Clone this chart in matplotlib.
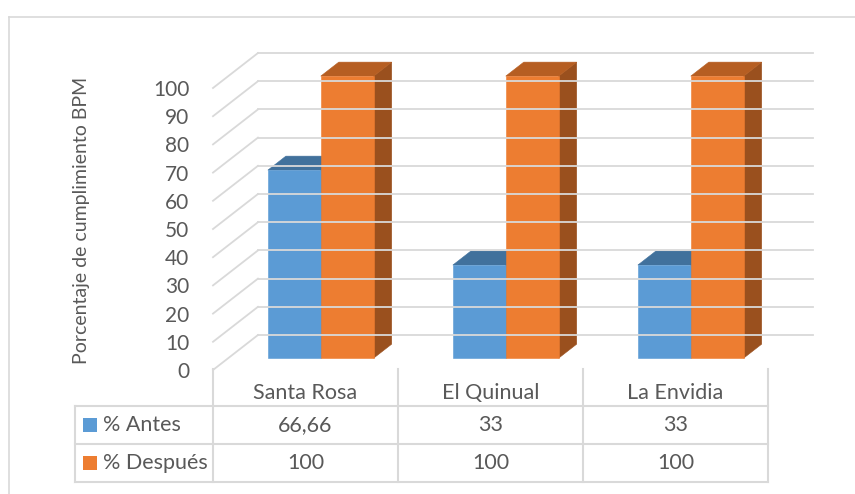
import matplotlib.pyplot as plt
from matplotlib.patches import Polygon, Rectangle
from matplotlib.lines import Line2D

# data
categories = ['Santa Rosa', 'El Quinual', 'La Envidia']
series_names = ['% Antes', '% Después']
antes = [66.66, 33, 33]
despues = [100, 100, 100]
antes_labels = ['66,66', '33', '33']
despues_labels = ['100', '100', '100']
yticks = list(range(0, 101, 10))

blue, blue_top, blue_side = '#5B9BD5', '#41719C', '#3E6C96'
orange, orange_top, orange_side = '#ED7D31', '#B65E22', '#9A501E'
grid_col = '#D9D9D9'
text_col = '#595959'

plt.rcParams['font.family'] = ['Lato', 'DejaVu Sans']

W, H = 855, 494
fig = plt.figure(figsize=(W / 100, H / 100), dpi=100)

# outer chart border (right and bottom edges fall outside the picture)
fig.add_artist(Line2D([9 / W, 9 / W], [0, 1 - 17 / H], color=grid_col, lw=1.2))
fig.add_artist(Line2D([9 / W, 1], [1 - 17 / H, 1 - 17 / H], color=grid_col, lw=1.2))

# axes = front plane of the 3d box: x in categories, y in percent
ax = fig.add_axes([213 / W, (H - 370) / H, 555 / W, 282 / H])
ax.set_xlim(0, len(categories))
ax.set_ylim(0, 100)
for s in ax.spines.values():
    s.set_visible(False)
ax.patch.set_visible(False)
ax.set_xticks([])
ax.set_yticks(yticks)
ax.tick_params(axis='y', length=0, pad=17, labelsize=15, labelcolor=text_col)
ax.set_ylabel('Porcentaje de cumplimiento BPM', fontsize=14, color=text_col)
ax.yaxis.set_label_coords(-0.222, 0.532)

DX, DY = 0.243, 12.4   # depth of the floor (category units, percent units)
ncat = len(categories)

# side wall and back wall gridlines
for v in yticks:
    ax.plot([0, DX], [v, v + DY], color=grid_col, lw=1.3, clip_on=False)
    ax.plot([DX, ncat + DX], [v + DY, v + DY], color=grid_col, lw=1.3, clip_on=False)


def bar3d(x0, w, h, f0, f1, cols):
    xf = x0 + f0 * DX
    yf = f0 * DY
    ddx = (f1 - f0) * DX
    ddy = (f1 - f0) * DY
    front = [(xf, yf), (xf + w, yf), (xf + w, yf + h), (xf, yf + h)]
    top = [(xf, yf + h), (xf + w, yf + h), (xf + w + ddx, yf + h + ddy), (xf + ddx, yf + h + ddy)]
    side = [(xf + w, yf), (xf + w + ddx, yf + ddy), (xf + w + ddx, yf + h + ddy), (xf + w, yf + h)]
    for pts, c in zip([side, top, front], cols):
        ax.add_patch(Polygon(pts, closed=True, facecolor=c, edgecolor=c, lw=0.4, clip_on=False))


bw = 0.286
for i in range(ncat):
    bar3d(i + 0.5 - bw, bw, antes[i], 0.34, 0.74, [blue_side, blue_top, blue])
    bar3d(i + 0.5, bw, despues[i], 0.34, 0.74, [orange_side, orange_top, orange])

# data table
row_edges = [0.3, -12.8, -26.2, -39.6]
leg_left = -0.746
tkw = dict(color=grid_col, lw=1.5, clip_on=False)
for x in range(ncat + 1):
    ax.plot([x, x], [row_edges[0], row_edges[-1]], **tkw)
ax.plot([leg_left, leg_left], [row_edges[1], row_edges[-1]], **tkw)
for y in row_edges[1:]:
    ax.plot([leg_left, ncat], [y, y], **tkw)

for i, name in enumerate(categories):
    ax.text(i + 0.5, -8.2, name, ha='center', va='center', fontsize=15.5, color=text_col, clip_on=False)

rows = [(series_names[0], blue, antes_labels), (series_names[1], orange, despues_labels)]
for r, (name, col, labels) in enumerate(rows):
    yc = (row_edges[r + 1] + row_edges[r + 2]) / 2
    ax.add_patch(Rectangle((-0.703, yc - 2.5), 0.0757, 5.0, facecolor=col, edgecolor='none', clip_on=False))
    ax.text(-0.595, yc, name, ha='left', va='center', fontsize=15.5, color=text_col, clip_on=False)
    for i, lab in enumerate(labels):
        ax.text(i + 0.5, yc, lab, ha='center', va='center', fontsize=15.5, color=text_col, clip_on=False)

fig.savefig('out.png', dpi=100)
